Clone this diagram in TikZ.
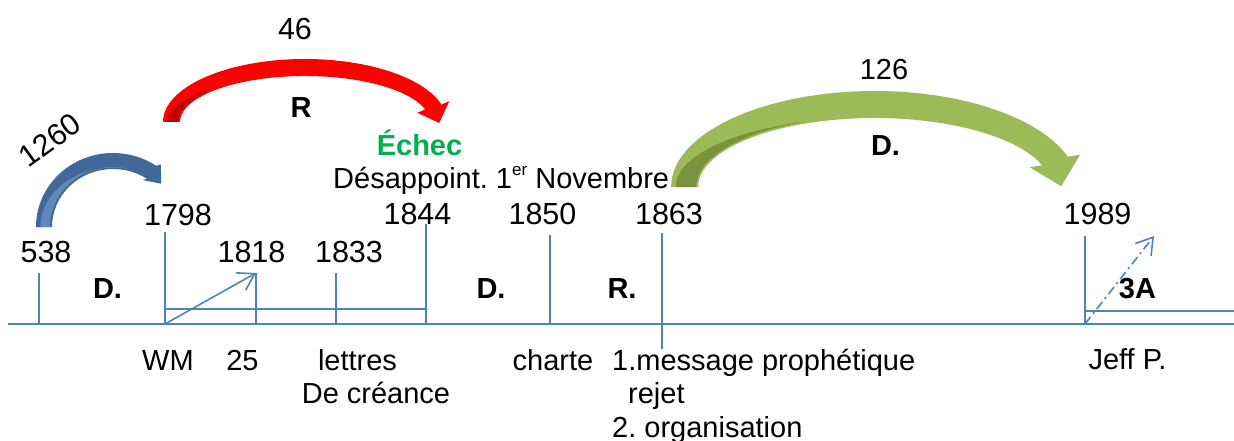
\documentclass[tikz,border=0pt]{standalone}
\usepackage{fontspec}
\setmainfont{Liberation Sans}
\usetikzlibrary{arrows.meta}
\frenchspacing
\definecolor{tl}{HTML}{4F81BD}
\definecolor{redA}{HTML}{FF0000}
\definecolor{redB}{HTML}{C00000}
\definecolor{grnA}{HTML}{9BBB59}
\definecolor{grnB}{HTML}{77933C}
\definecolor{bluA}{HTML}{41689B}
\definecolor{bluB}{HTML}{6089BA}
\definecolor{echec}{HTML}{00B050}
\newcommand\KCurvedArrow[2]{%
  \pgfmathsetmacro\Kro{\Kea+\Kew}%
  \pgfmathsetmacro\Krob{\Keb+\Kew}%
  \pgfmathsetmacro\Kri{\Kea-\Kew}%
  \pgfmathsetmacro\Krib{\Keb-\Kew}%
  \pgfmathsetmacro\KSx{\Kcx-\Kro}%
  \pgfmathsetmacro\KPx{\Kcx+\Kea*cos(\Kte)}%
  \pgfmathsetmacro\KPy{\Kcy+\Keb*sin(\Kte)}%
  \pgfmathsetmacro\KTx{\KPx+\Khl*cos(\Khp)}%
  \pgfmathsetmacro\KTy{\KPy+\Khl*sin(\Khp)}%
  \pgfmathsetmacro\KAx{\KPx-\Khh*sin(\Khp)}%
  \pgfmathsetmacro\KAy{\KPy+\Khh*cos(\Khp)}%
  \pgfmathsetmacro\KBx{\KPx+\Khh*sin(\Khp)}%
  \pgfmathsetmacro\KBy{\KPy-\Khh*cos(\Khp)}%
  \pgfmathsetmacro\KIx{\Kcx+\Kri*cos(\Kte)}%
  \pgfmathsetmacro\KIy{\Kcy+\Krib*sin(\Kte)}%
  \fill[#1] (\KSx,\Kcy) arc[start angle=180,end angle=\Kte,x radius=\Kro,y radius=\Krob]
     -- (\KAx,\KAy) -- (\KTx,\KTy) -- (\KBx,\KBy) -- (\KIx,\KIy)
     arc[start angle=\Kte,end angle=180,x radius=\Kri,y radius=\Krib] -- cycle;
  \pgfmathsetmacro\KAb{\Kea-\Kew+2}%
  \pgfmathsetmacro\KBb{\Keb-\Kew+2}%
  \pgfmathsetmacro\KAa{\Kea+\Kew-4.5}%
  \pgfmathsetmacro\Kcs{\KAb*cos(\Ktd)/\KAa}%
  \pgfmathsetmacro\Ksang{acos(\Kcs)}%
  \pgfmathsetmacro\KBa{\KBb*sin(\Ktd)/sqrt(1-\Kcs*\Kcs)}%
  \pgfmathsetmacro\KLx{\Kcx-\KAb}%
  \pgfmathsetmacro\KMx{\Kcx-\KAa}%
  \fill[#2] (\KLx,\Kcy) -- (\KMx,\Kcy)
     arc[start angle=180,end angle=\Ksang,x radius=\KAa,y radius=\KBa]
     arc[start angle=\Ktd,end angle=180,x radius=\KAb,y radius=\KBb] -- cycle;
}
\tikzset{
  tline/.style={draw=tl, line width=1.6pt},
  yr/.style={font=\fontsize{30.5}{36}\selectfont, anchor=base, inner sep=0pt},
  lbl/.style={font=\fontsize{29}{34}\selectfont, anchor=base, inner sep=0pt},
  lblw/.style={lbl, anchor=base west},
  bl/.style={font=\fontsize{29}{34}\selectfont\bfseries, anchor=base, inner sep=0pt},
  barb/.style={-{Straight Barb[length=16pt,width=20pt]}},
}
\begin{document}
\begin{tikzpicture}[x=1pt,y=1pt]
\useasboundingbox (0,0) rectangle (1234,-441);

% ---- curved arrows ----
% blue 1260
\def\Kcx{113}\def\Kcy{-227}\def\Kea{69}\def\Keb{66}\def\Kew{8}
\def\Kte{56}\def\Khh{12}\def\Khl{15}\def\Khp{-50}\def\Ktd{75}
\KCurvedArrow{bluA}{bluB}
% red 46
\def\Kcx{305}\def\Kcy{-122}\def\Kea{133.5}\def\Keb{54.5}\def\Kew{8.5}
\def\Kte{16}\def\Khh{17}\def\Khl{17}\def\Khp{-70}\def\Ktd{131}
\KCurvedArrow{redA}{redB}
% green 126
\def\Kcx{874.6}\def\Kcy{-187}\def\Kea{190}\def\Keb{82.5}\def\Kew{13.5}
\def\Kte{18.4}\def\Khh{26}\def\Khl{26}\def\Khp{-76}\def\Ktd{113}
\KCurvedArrow{grnA}{grnB}

% ---- timeline coordinates ----
\coordinate (axL) at (8,-324);
\coordinate (axR) at (1234,-324);
\coordinate (b538) at (39,-324);   \coordinate (t538) at (39,-273);
\coordinate (b1798) at (165,-324); \coordinate (t1798) at (165,-232);
\coordinate (m1798) at (165,-309); \coordinate (m1844) at (426,-309);
\coordinate (b1818) at (256,-324); \coordinate (t1818) at (256,-273);
\coordinate (b1833) at (336,-324); \coordinate (t1833) at (336,-273);
\coordinate (b1844) at (426,-324); \coordinate (t1844) at (426,-224);
\coordinate (b1850) at (550,-324); \coordinate (t1850) at (550,-235);
\coordinate (b1863) at (662,-349); \coordinate (t1863) at (662,-233);
\coordinate (b1989) at (1085,-324); \coordinate (t1989) at (1085,-236);
\coordinate (m1989) at (1085,-311); \coordinate (mR) at (1234,-311);
\coordinate (d1989) at (1154,-236);

\draw[tline] (axL) -- (axR);
\draw[tline] (b538) -- (t538);
\draw[tline] (b1798) -- (t1798);
\draw[tline] (m1798) -- (m1844);
\draw[tline] (b1818) -- (t1818);
\draw[tline] (b1833) -- (t1833);
\draw[tline] (b1844) -- (t1844);
\draw[tline] (b1850) -- (t1850);
\draw[tline] (b1863) -- (t1863);
\draw[tline] (b1989) -- (t1989);
\draw[tline] (m1989) -- (mR);
\draw[tline, barb] (b1798) -- (t1818);
\draw[tline, barb, dash pattern=on 9pt off 4pt on 2pt off 4pt] (b1989) -- (d1989);

% ---- year labels ----
\node[yr] (y538)  at (46,-262)    {538};
\node[yr] (y1798) at (178,-225)   {1798};
\node[yr] (y1818) at (251.5,-262) {1818};
\node[yr] (y1833) at (349,-262)   {1833};
\node[yr] (y1844) at (417.5,-224) {1844};
\node[yr] (y1850) at (542.5,-224) {1850};
\node[yr] (y1863) at (669,-224)   {1863};
\node[yr] (y1989) at (1097.5,-224){1989};

% ---- period labels ----
\node[bl] (pD1) at (107.5,-298) {D.};
\node[bl] (pD2) at (491,-298)   {D.};
\node[bl] (pR)  at (622,-298)   {R.};
\node[bl] (p3A) at (1137.5,-298){3A};

% ---- arrow labels ----
\node[yr, anchor=center, rotate=36] (n1260) at (50,-140) {1260};
\node[yr] (n46) at (295,-40) {46};
\node[bl] (nR) at (301,-118) {R};
\node[bl, text=echec] (nEchec) at (419.5,-155) {Échec};
\node[lblw] (nDes) at (333,-188) {Désappoint. 1\raisebox{0.42em}{\fontsize{17}{17}\selectfont er} Novembre};
\node[lbl] (n126) at (884,-80) {126};
\node[bl] (nD3) at (885.5,-155) {D.};

% ---- bottom labels ----
\node[lbl] (lWM) at (168,-370) {WM};
\node[lbl] (l25) at (242.5,-370) {25};
\node[lbl] (lLet) at (357.5,-370) {lettres};
\node[lbl] (lCre) at (376,-403) {De créance};
\node[lbl] (lCh) at (553,-370) {charte};
\node[lblw] (lM1) at (612,-370) {1.message prophétique};
\node[lblw] (lM2) at (628,-403) {rejet};
\node[lblw] (lM3) at (612,-437) {2. organisation};
\node[lbl] (lJeff) at (1127.5,-369) {Jeff P.};
\end{tikzpicture}
\end{document}
